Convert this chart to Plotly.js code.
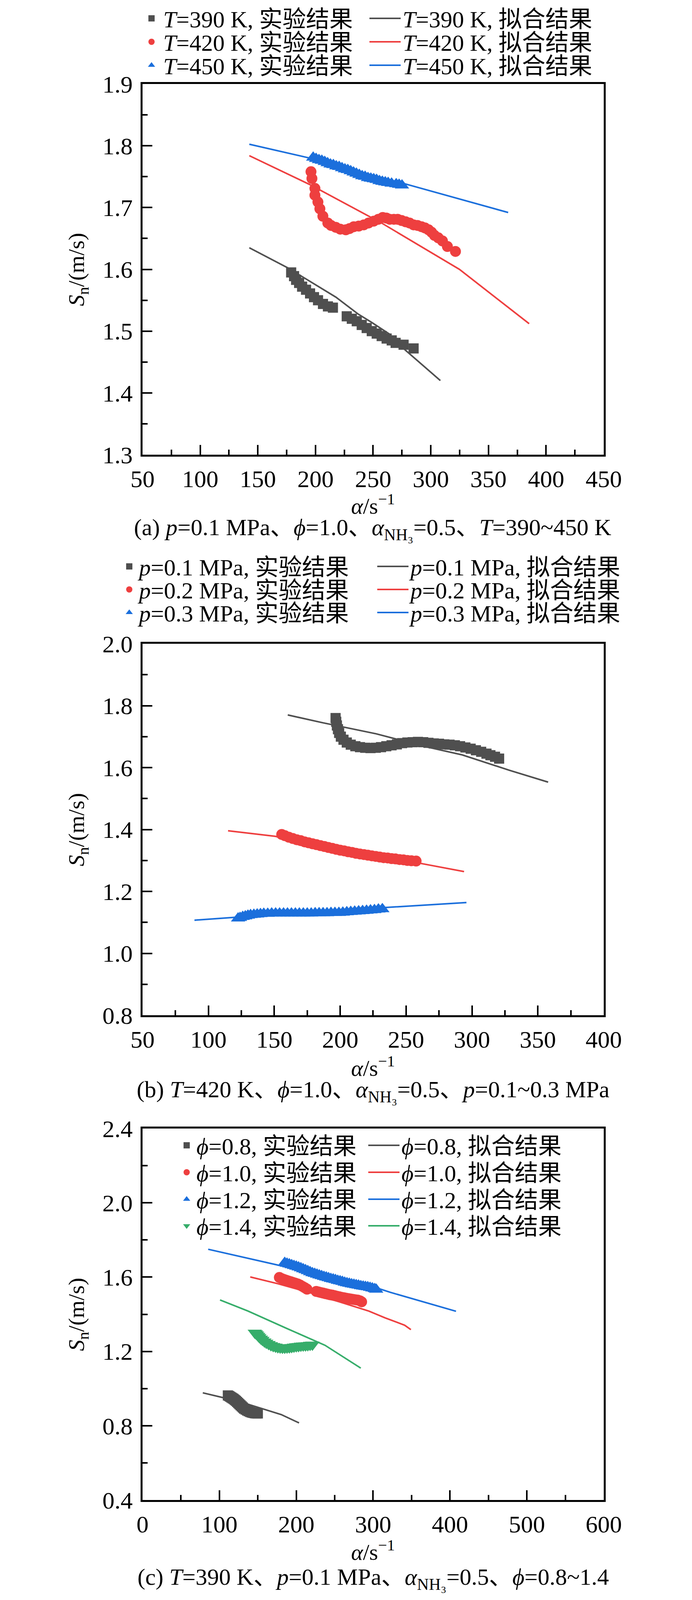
<!DOCTYPE html>
<html>
<head>
<meta charset="utf-8">
<script src="https://cdn.plot.ly/plotly-3.0.1.min.js"></script>
<style>
body{margin:0;background:#fff}
#chart{width:1772px;height:5575px}
</style>
</head>
<body>
<div id="chart"></div>
<script>
var gris = '#4f4f4f', rojo = '#ee3f3f', azul = '#1b6fdc', verde = '#36ad6a';
var fuente = 'Liberation Serif, Noto Sans CJK SC, serif';

// (a) p=0.1 MPa, T=390~450 K
var a390ExpX = [178.9,181.4,183.2,185.8,188.4,191.8,195.3,198.7,202.2,206.5,210.8,215.1,227.1,231.5,235.8,240.1,244.4,248.8,253.1,257.4,261.7,266.1,269.5,276.4,285.1];
var a390ExpY = [1.595,1.589,1.583,1.578,1.572,1.567,1.561,1.555,1.550,1.544,1.540,1.538,1.524,1.520,1.516,1.510,1.505,1.500,1.496,1.492,1.488,1.485,1.481,1.478,1.472];
var a390FitX = [142.6,176.3,217.7,236.7,248.8,264.3,278.1,308.3];
var a390FitY = [1.635,1.602,1.555,1.528,1.514,1.495,1.469,1.420];
var a420ExpX = [196.1,196.9,199.5,199.5,202.1,203.8,206.4,210.7,213.5,217.6,221.5,226.3,229.5,233.2,237.5,241.9,246,250.5,254.5,258.3,261.5,264.4,268,271.3,274.7,278.2,281.6,285.1,288.5,292.0,295,298.1,300.7,303.2,306.5,310.1,314.4,321.4];
var a420ExpY = [1.758,1.747,1.731,1.720,1.709,1.698,1.686,1.675,1.671,1.668,1.665,1.664,1.666,1.669,1.670,1.672,1.675,1.678,1.681,1.684,1.683,1.681,1.681,1.681,1.679,1.677,1.675,1.672,1.671,1.669,1.667,1.664,1.660,1.655,1.651,1.646,1.637,1.629];
var a420FitX = [142.6,195.3,257.3,324.8,385.3];
var a420FitY = [1.784,1.737,1.675,1.600,1.512];
var a450ExpX = [198,200.5,203,205.5,208,210.5,213,215.5,218,220.5,223,225.5,228,230.5,233,235.5,238,240.5,243,245.5,248,250.5,253,255.5,258,260.5,263,266,270,272.5,275];
var a450ExpY = [1.781,1.779,1.777,1.776,1.774,1.772,1.770,1.769,1.767,1.766,1.764,1.762,1.761,1.759,1.757,1.755,1.753,1.751,1.750,1.748,1.747,1.746,1.745,1.743,1.742,1.741,1.740,1.739,1.738,1.737,1.736];
var a450FitX = [142.6,195.2,276.4,367.1];
var a450FitY = [1.8025,1.780,1.739,1.692];

// (b) T=420 K, p=0.1~0.3 MPa
var b01ExpX = [196.5,197,197.5,198.3,199.2,200.5,202.5,205,208,211.5,215,219,223,227,231,235,239,243,247,251,255,259,263,267,271,275,279,283,287,291,295,299,303,307,311,314,317.5,320.6];
var b01ExpY = [1.760,1.748,1.736,1.724,1.712,1.700,1.690,1.681,1.674,1.669,1.666,1.664,1.663,1.664,1.666,1.669,1.672,1.675,1.679,1.681,1.682,1.683,1.682,1.680,1.678,1.677,1.675,1.674,1.672,1.669,1.665,1.661,1.656,1.651,1.645,1.640,1.635,1.629];
var b01FitX = [160.2,186.6,227.4,264.3,292.6,328.6,357.8];
var b01FitY = [1.770,1.745,1.709,1.668,1.641,1.591,1.553];
var b02ExpX = [155.6,158,161,164,167,170,173,176,179,182,185,188,191,194,197,200,203,206,209,212,215,218,221,224,227,230,233,236,239,242,245,248,251,254,257.6];
var b02ExpY = [1.384,1.380,1.375,1.371,1.367,1.364,1.360,1.357,1.354,1.351,1.348,1.345,1.342,1.339,1.336,1.333,1.331,1.328,1.326,1.323,1.321,1.319,1.317,1.315,1.313,1.311,1.309,1.308,1.306,1.305,1.303,1.302,1.300,1.299,1.298];
var b02FitX = [114.9,150.8,200,260.4,294];
var b02FitY = [1.396,1.378,1.329,1.291,1.264];
var b03ExpX = [122.5,124,126,128,130,132,134.5,137,139.5,142,145,148,151,154,157,160,163,166,169,172,175,178,181,184,187,190,193,196,199,202,205,208,211,214,217,220,223,226,229,232];
var b03ExpY = [1.113,1.115,1.118,1.120,1.122,1.124,1.125,1.126,1.127,1.128,1.128,1.129,1.129,1.129,1.129,1.129,1.129,1.129,1.129,1.129,1.129,1.129,1.130,1.130,1.130,1.130,1.131,1.131,1.131,1.132,1.133,1.134,1.135,1.136,1.137,1.138,1.139,1.140,1.142,1.143];
var b03FitX = [89.4,122.5,234,264.3,295.8];
var b03FitY = [1.107,1.117,1.148,1.156,1.164];

// (c) T=390 K, phi=0.8~1.4
var c08ExpX = [111,112.5,114,115.5,117,118.5,120,121.5,123,124.5,126,127.5,129,130.5,132,134,136,138,140,142,144,146,148,150];
var c08ExpY = [0.963,0.960,0.956,0.952,0.948,0.944,0.939,0.934,0.928,0.922,0.916,0.910,0.904,0.898,0.892,0.887,0.882,0.878,0.874,0.871,0.869,0.867,0.866,0.866];
var c08FitX = [78.4,105.9,138.5,180.4,203.6];
var c08FitY = [0.977,0.950,0.914,0.860,0.815];
var c10ExpX = [178,181,184,187,190,193,196,199,202,205,208,211,214,226,229,232,235,238,241,244,247,250,253,256,259,262,265,268,271,274,277,280,283,285];
var c10ExpY = [1.598,1.592,1.587,1.583,1.579,1.575,1.571,1.567,1.563,1.557,1.550,1.543,1.535,1.523,1.520,1.517,1.514,1.511,1.508,1.505,1.503,1.500,1.497,1.494,1.491,1.489,1.486,1.484,1.482,1.480,1.478,1.476,1.472,1.467];
var c10FitX = [140.1,175.7,222.3,275.8,294.4,315.4,341,349.1];
var c10FitY = [1.601,1.565,1.511,1.442,1.417,1.381,1.341,1.317];
var c12ExpX = [185,188,191,194,197,200,203,206,209,212,215,218,221,224,227,230,233,236,239,242,245,248,251,254,257,260,263,266,269,272,275,278,281,284,287,290,293,296,299,302,304];
var c12ExpY = [1.677,1.673,1.669,1.665,1.661,1.657,1.653,1.648,1.643,1.638,1.633,1.627,1.622,1.618,1.614,1.610,1.606,1.602,1.599,1.595,1.591,1.588,1.585,1.581,1.578,1.575,1.571,1.568,1.565,1.562,1.560,1.557,1.555,1.552,1.550,1.548,1.546,1.543,1.540,1.536,1.533];
var c12FitX = [85.4,179.2,306,322.4,407.8];
var c12FitY = [1.750,1.662,1.540,1.518,1.416];
var c14ExpX = [146,147.5,149,150.5,152,154,156,158.5,161,164,167,170,173,176,179,182,185,188,191,194,197,200,203,206,209,212,215,218,221];
var c14ExpY = [1.300,1.296,1.290,1.283,1.276,1.268,1.261,1.253,1.246,1.239,1.233,1.228,1.225,1.222,1.220,1.219,1.219,1.220,1.221,1.223,1.225,1.227,1.228,1.230,1.231,1.232,1.233,1.235,1.236];
var c14FitX = [100.8,137.3,187.4,225.8,237.4,283.9];
var c14FitY = [1.477,1.417,1.324,1.254,1.233,1.110];

// (d) T=390 K, alpha_NH3=0.1~0.5
var d01ExpX = [327.4,333.6,336.8,342.0,348.0,353.0,359.5,365.2,371.2,377.6,383.8,390.6,397.4,404.4,412.5,422.5,427.9,436.8,445.4,454.6,464.8,475.7,485.4,497.5,509.2,522.2,540.5,549.7];
var d01ExpY = [2.912,2.908,2.907,2.902,2.899,2.893,2.890,2.885,2.879,2.875,2.870,2.863,2.858,2.852,2.847,2.841,2.837,2.832,2.827,2.823,2.819,2.815,2.813,2.810,2.807,2.804,2.802,2.801];
var d01FitX = [219.6,328.2,593.7];
var d01FitY = [2.954,2.908,2.775];
var d03ExpX = [240.8,246.1,251.8,257.5,263.1,268.8,274.5,280.2,285.8,291.5,297.2,302.8,307.6,312.3,320.8,328.3,333.1,338.7,344.4,350.1,355.7,363.3,369.0,375.6];
var d03ExpY = [2.163,2.152,2.149,2.148,2.148,2.149,2.150,2.151,2.150,2.148,2.145,2.143,2.141,2.136,2.131,2.128,2.122,2.115,2.107,2.100,2.093,2.086,2.078,2.069];
var d03FitX = [181.9,208.3,236.7,280,320,350,382.2,403.4];
var d03FitY = [2.212,2.191,2.173,2.150,2.130,2.103,2.076,2.064];
var d05ExpX = [178.5,181.9,185.7,189.4,193.2,197.0,200.8,204.6,208.3,212.1,215.9,227.2,232.0,236.7,241.4,246.1,250.9,255.6,260.3,265.0,269.8,274.5,285.4];
var d05ExpY = [1.602,1.598,1.592,1.587,1.582,1.575,1.569,1.564,1.559,1.553,1.543,1.531,1.527,1.522,1.518,1.513,1.509,1.505,1.500,1.496,1.491,1.486,1.477];
var d05FitX = [140.7,174.3,217,261.2,284,302.8,318,340.6,349.1];
var d05FitY = [1.611,1.575,1.521,1.467,1.439,1.411,1.390,1.348,1.328];

function exp(x, y, name, color, symbol, size, n) {
    return {type: 'scatter', mode: 'markers', x: x, y: y, name: name,
        xaxis: 'x' + n, yaxis: 'y' + n, showlegend: true,
        marker: {color: color, symbol: symbol, size: size, line: {width: 0}}};
}
function fit(x, y, name, color, n) {
    return {type: 'scatter', mode: 'lines', x: x, y: y, name: name,
        xaxis: 'x' + n, yaxis: 'y' + n, showlegend: true,
        line: {color: color, width: 4}};
}

function ejeX(range, dtick, anchor) {
    return {domain: [0.20598, 0.87246], range: range, dtick: dtick, tick0: 0, anchor: anchor,
        showline: true, mirror: true, linecolor: '#000', linewidth: 4.5,
        ticks: 'inside', ticklen: 25, tickwidth: 4, tickcolor: '#000',
        minor: {dtick: dtick / 2, ticks: 'inside', ticklen: 13, tickwidth: 3.5, tickcolor: '#000', showgrid: false},
        showgrid: false, zeroline: false, automargin: false, ticklabelstandoff: 4,
        tickfont: {family: fuente, size: 62, color: '#000'}};
}
function ejeY(range, dtick, anchor, domain) {
    return {domain: domain, range: range, dtick: dtick, tick0: 0, anchor: anchor, tickformat: '.1f',
        showline: true, mirror: true, linecolor: '#000', linewidth: 4.5,
        ticks: 'inside', ticklen: 25, tickwidth: 4, tickcolor: '#000',
        minor: {dtick: dtick / 2, ticks: 'inside', ticklen: 13, tickwidth: 3.5, tickcolor: '#000', showgrid: false},
        showgrid: false, zeroline: false, automargin: false, ticklabelstandoff: 8,
        tickfont: {family: fuente, size: 62, color: '#000'}};
}
function leyenda(x, y, w) {
    return {x: x, y: y, xanchor: 'left', yanchor: 'middle', orientation: 'v', visible: true,
        bgcolor: 'rgba(0,0,0,0)', borderwidth: 0, itemwidth: w, tracegroupgap: 0,
        font: {family: fuente, size: 60, color: '#000'}};
}
function texto(x, y, t, ang, size) {
    return {xref: 'paper', yref: 'paper', x: x, y: y, xanchor: 'center', yanchor: 'middle',
        text: t, showarrow: false, textangle: ang || 0,
        font: {family: fuente, size: size || 60, color: '#000'}};
}

var tituloX = '<i>α</i>/s<sup>−1</sup>';
var tituloY = '<i>S</i><sub>n</sub>/(m/s)';
var nh3 = '<i>α</i><sub>NH₃</sub>';

var layout = {
    width: 1772, height: 5575,
    margin: {l: 0, r: 0, t: 0, b: 0},
    showlegend: true,
    paper_bgcolor: '#fff', plot_bgcolor: '#fff',
    font: {family: fuente, color: '#000'},
    xaxis: ejeX([50, 450], 50, 'y'),
    yaxis: ejeY([1.3, 1.9], 0.1, 'x', [0.79121, 0.96143]),
    xaxis2: ejeX([50, 400], 50, 'y2'),
    yaxis2: ejeY([0.8, 2.0], 0.2, 'x2', [0.53381, 0.70439]),
    xaxis3: ejeX([0, 600], 100, 'y3'),
    yaxis3: ejeY([0.4, 2.4], 0.4, 'x3', [0.31121, 0.48179]),
    xaxis4: ejeX([100, 600], 100, 'y4'),
    yaxis4: ejeY([1.2, 3.2], 0.4, 'x4', [0.04502, 0.21561]),
    annotations: [
        texto(0.539, 0.76843, tituloX, 0, 58), texto(0.1125, 0.87632, tituloY, -90, 58),
        texto(0.5384, 0.75713, '(a) <i>p</i>=0.1 MPa、<i>ϕ</i>=1.0、' + nh3 + '=0.5、<i>T</i>=390~450 K'),
        texto(0.539, 0.51031, tituloX, 0, 58), texto(0.1125, 0.6191, tituloY, -90, 58),
        texto(0.539, 0.49901, '(b) <i>T</i>=420 K、<i>ϕ</i>=1.0、' + nh3 + '=0.5、<i>p</i>=0.1~0.3 MPa'),
        texto(0.539, 0.28807, tituloX, 0, 58), texto(0.1125, 0.3965, tituloY, -90, 58),
        texto(0.539, 0.27515, '(c) <i>T</i>=390 K、<i>p</i>=0.1 MPa、' + nh3 + '=0.5、<i>ϕ</i>=0.8~1.4'),
        texto(0.539, 0.02224, tituloX, 0, 58), texto(0.1125, 0.13031, tituloY, -90, 58),
        texto(0.539, 0.00932, '(d) <i>T</i>=390 K、<i>p</i>=0.1 MPa、<i>ϕ</i>=1.0、' + nh3 + '=0.1~0.5')
    ]
};

// one legend per entry so that every row sits where the reference has it
var data = [];
var nLeyenda = 0;
function agregar(trace, lx, ly, w) {
    nLeyenda++;
    var id = nLeyenda === 1 ? 'legend' : 'legend' + nLeyenda;
    trace.legend = id;
    data.push(trace);
    layout[id] = leyenda(lx, ly, w);
}

var tT = '<i>T</i>=', tP = '<i>p</i>=', tF = '<i>ϕ</i>=';
var sE = ', 实验结果', sF = ', 拟合结果';

agregar(exp(a390ExpX, a390ExpY, tT + '390 K' + sE, gris, 'square', 26, ''), 0.20203, 0.99157, 50);
agregar(exp(a420ExpX, a420ExpY, tT + '420 K' + sE, rojo, 'circle', 28, ''), 0.20203, 0.98081, 50);
agregar(exp(a450ExpX, a450ExpY, tT + '450 K' + sE, azul, 'triangle-up', 32, ''), 0.20203, 0.97004, 50);
agregar(fit(a390FitX, a390FitY, tT + '390 K' + sF, gris, ''), 0.53104, 0.99157, 80);
agregar(fit(a420FitX, a420FitY, tT + '420 K' + sF, rojo, ''), 0.53104, 0.98081, 80);
agregar(fit(a450FitX, a450FitY, tT + '450 K' + sF, azul, ''), 0.53104, 0.97004, 80);

agregar(exp(b01ExpX, b01ExpY, tP + '0.1 MPa' + sE, gris, 'square', 26, '2'), 0.17269, 0.73991, 40);
agregar(exp(b02ExpX, b02ExpY, tP + '0.2 MPa' + sE, rojo, 'circle', 28, '2'), 0.17269, 0.72933, 40);
agregar(exp(b03ExpX, b03ExpY, tP + '0.3 MPa' + sE, azul, 'triangle-up', 32, '2'), 0.17269, 0.71874, 40);
agregar(fit(b01FitX, b01FitY, tP + '0.1 MPa' + sF, gris, '2'), 0.54233, 0.73991, 80);
agregar(fit(b02FitX, b02FitY, tP + '0.2 MPa' + sF, rojo, '2'), 0.54233, 0.72933, 80);
agregar(fit(b03FitX, b03FitY, tP + '0.3 MPa' + sF, azul, '2'), 0.54233, 0.71874, 80);

agregar(exp(c08ExpX, c08ExpY, tF + '0.8' + sE, gris, 'square', 26, '3'), 0.25564, 0.47408, 40);
agregar(exp(c10ExpX, c10ExpY, tF + '1.0' + sE, rojo, 'circle', 28, '3'), 0.25564, 0.46170, 40);
agregar(exp(c12ExpX, c12ExpY, tF + '1.2' + sE, azul, 'triangle-up', 32, '3'), 0.25564, 0.44933, 40);
agregar(exp(c14ExpX, c14ExpY, tF + '1.4' + sE, verde, 'triangle-down', 32, '3'), 0.25564, 0.43713, 40);
agregar(fit(c08FitX, c08FitY, tF + '0.8' + sF, gris, '3'), 0.52935, 0.47408, 80);
agregar(fit(c10FitX, c10FitY, tF + '1.0' + sF, rojo, '3'), 0.52935, 0.46170, 80);
agregar(fit(c12FitX, c12FitY, tF + '1.2' + sF, azul, '3'), 0.52935, 0.44933, 80);
agregar(fit(c14FitX, c14FitY, tF + '1.4' + sF, verde, '3'), 0.52935, 0.43713, 80);

agregar(exp(d01ExpX, d01ExpY, nh3 + '=0.1' + sE, azul, 'triangle-up', 32, '4'), 0.20542, 0.25758, 50);
agregar(exp(d03ExpX, d03ExpY, nh3 + '=0.3' + sE, rojo, 'circle', 28, '4'), 0.20542, 0.24233, 50);
agregar(exp(d05ExpX, d05ExpY, nh3 + '=0.5' + sE, gris, 'square', 26, '4'), 0.20542, 0.22798, 50);
agregar(fit(d01FitX, d01FitY, nh3 + '=0.1' + sF, azul, '4'), 0.53273, 0.25758, 80);
agregar(fit(d03FitX, d03FitY, nh3 + '=0.3' + sF, rojo, '4'), 0.53273, 0.24233, 80);
agregar(fit(d05FitX, d05FitY, nh3 + '=0.5' + sF, gris, '4'), 0.53273, 0.22798, 80);

var config = {displayModeBar: false, responsive: false};

Plotly.newPlot('chart', data, layout, config);
</script>
</body>
</html>
